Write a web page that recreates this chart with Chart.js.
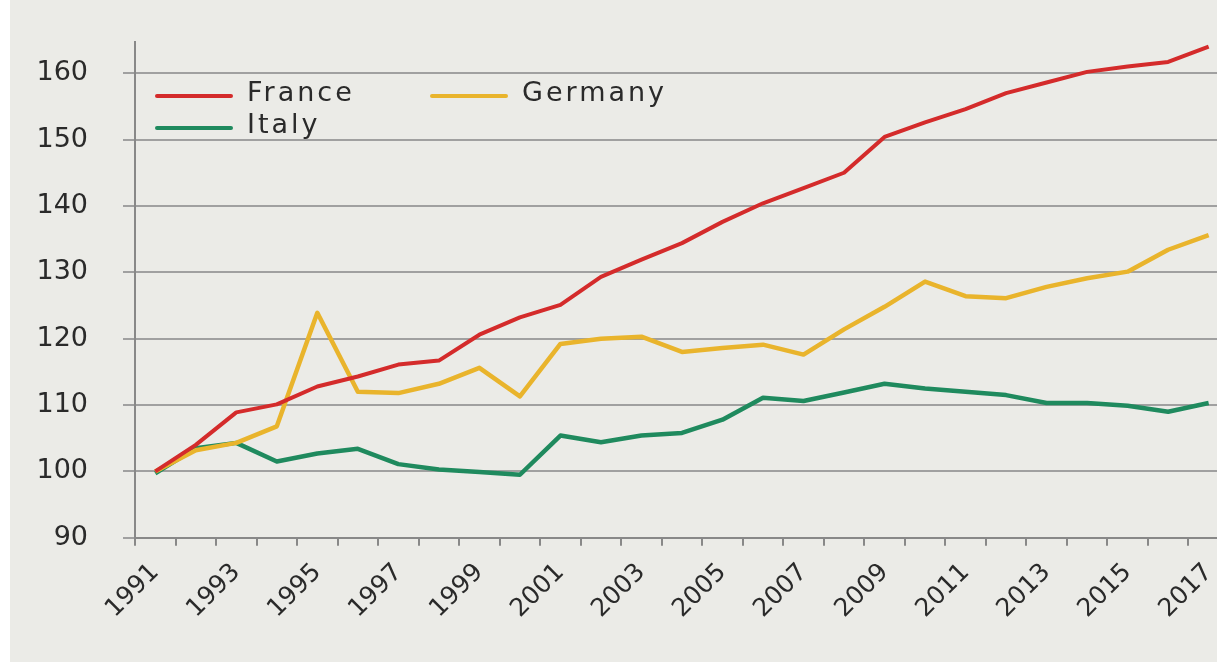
<!DOCTYPE html>
<html>
<head>
<meta charset="utf-8">
<script src="https://cdn.jsdelivr.net/npm/chart.js@4/dist/chart.umd.min.js"></script>
<style>
  html, body { margin: 0; padding: 0; background: #ffffff; overflow: hidden; }
  #panel { position: absolute; left: 10px; top: 0; width: 1232px; height: 662px; background: #ebebe7; }
  #wrap { position: absolute; left: 0; top: 0; width: 1232px; height: 662px; }
</style>
</head>
<body>
<div id="panel"><div id="wrap"><canvas id="c"></canvas></div></div>
<script>
const years = ['1991','1992','1993','1994','1995','1996','1997','1998','1999','2000','2001','2002','2003','2004','2005','2006','2007','2008','2009','2010','2011','2012','2013','2014','2015','2016','2017'];
const france = [100, 104, 108.9, 110.1, 112.8, 114.3, 116.1, 116.7, 120.6, 123.2, 125.1, 129.3, 131.9, 134.4, 137.6, 140.4, 142.7, 145, 150.4, 152.6, 154.6, 157, 158.6, 160.2, 161, 161.7, 164];
const germany = [100, 103.2, 104.3, 106.8, 123.9, 112, 111.8, 113.2, 115.6, 111.3, 119.2, 120, 120.3, 118, 118.6, 119.1, 117.6, 121.4, 124.8, 128.6, 126.4, 126.1, 127.8, 129.1, 130.1, 133.4, 135.6];
const italy = [99.7, 103.5, 104.3, 101.5, 102.7, 103.4, 101.1, 100.3, 99.9, 99.5, 105.4, 104.4, 105.4, 105.8, 107.8, 111.1, 110.6, 111.9, 113.2, 112.5, 112, 111.5, 110.3, 110.3, 109.9, 109, 110.3];
const seriesNames = ['France', 'Germany', 'Italy'];
const yTicks = [90, 100, 110, 120, 130, 140, 150, 160];

const colors = ['#d42b2b', '#e9b42c', '#1f8a5e'];

const legendPlugin = {
  id: 'customLegend',
  afterDraw(chart) {
    const ctx = chart.ctx;
    const a = chart.chartArea;
    const items = [
      { i: 0, dx: 22, dy: 54 },
      { i: 1, dx: 297, dy: 54 },
      { i: 2, dx: 22, dy: 86 }
    ];
    ctx.save();
    ctx.font = '27px "DejaVu Sans"';
    ctx.textBaseline = 'middle';
    ctx.fillStyle = '#2a2a2a';
    try { ctx.letterSpacing = '3px'; } catch (e) {}
    items.forEach(it => {
      const ds = chart.data.datasets[it.i];
      const x = a.left + it.dx, y = a.top + it.dy;
      ctx.strokeStyle = ds.borderColor;
      ctx.lineWidth = 4;
      ctx.lineCap = 'round';
      ctx.beginPath();
      ctx.moveTo(x, y);
      ctx.lineTo(x + 74, y);
      ctx.stroke();
      ctx.fillText(ds.label, x + 90, y - 2);
    });
    try { ctx.letterSpacing = '0px'; } catch (e) {}
    ctx.restore();
  }
};

new Chart(document.getElementById('c'), {
  type: 'line',
  data: {
    labels: years,
    datasets: [
      { label: seriesNames[0], data: france, borderColor: colors[0], borderWidth: 4 },
      { label: seriesNames[1], data: germany, borderColor: colors[1], borderWidth: 4.5 },
      { label: seriesNames[2], data: italy, borderColor: colors[2], borderWidth: 4.5 }
    ]
  },
  options: {
    responsive: true,
    maintainAspectRatio: false,
    animation: false,
    elements: { point: { radius: 0 }, line: { tension: 0, borderJoinStyle: 'round' } },
    layout: { padding: { left: 0, right: 7, top: 42, bottom: 26 } },
    plugins: { legend: { display: false }, tooltip: { enabled: false } },
    scales: {
      x: {
        type: 'category',
        offset: true,
        grid: { drawOnChartArea: false, drawTicks: true, tickLength: 8, color: '#888888', lineWidth: 2, offset: true },
        border: { color: '#888888', width: 2 },
        ticks: {
          autoSkip: false, minRotation: 45, maxRotation: 45, padding: 12,
          color: '#2a2a2a', font: { family: 'DejaVu Sans', size: 25 },
          callback: function(v, i) { return i % 2 === 0 ? this.getLabelForValue(v) : ''; }
        }
      },
      y: {
        min: 90, max: 164.7,
        afterBuildTicks: (s) => { s.ticks = yTicks.map(v => ({ value: v })); },
        afterFit: (s) => { s.width = 125; s.paddingTop = 0; s.paddingBottom = 0; },
        grid: { color: '#a0a0a0', lineWidth: 2, tickLength: 12 },
        border: { color: '#888888', width: 2 },
        ticks: { padding: 35, color: '#2a2a2a', font: { family: 'DejaVu Sans', size: 27 } }
      }
    }
  },
  plugins: [legendPlugin]
});
</script>
</body>
</html>
